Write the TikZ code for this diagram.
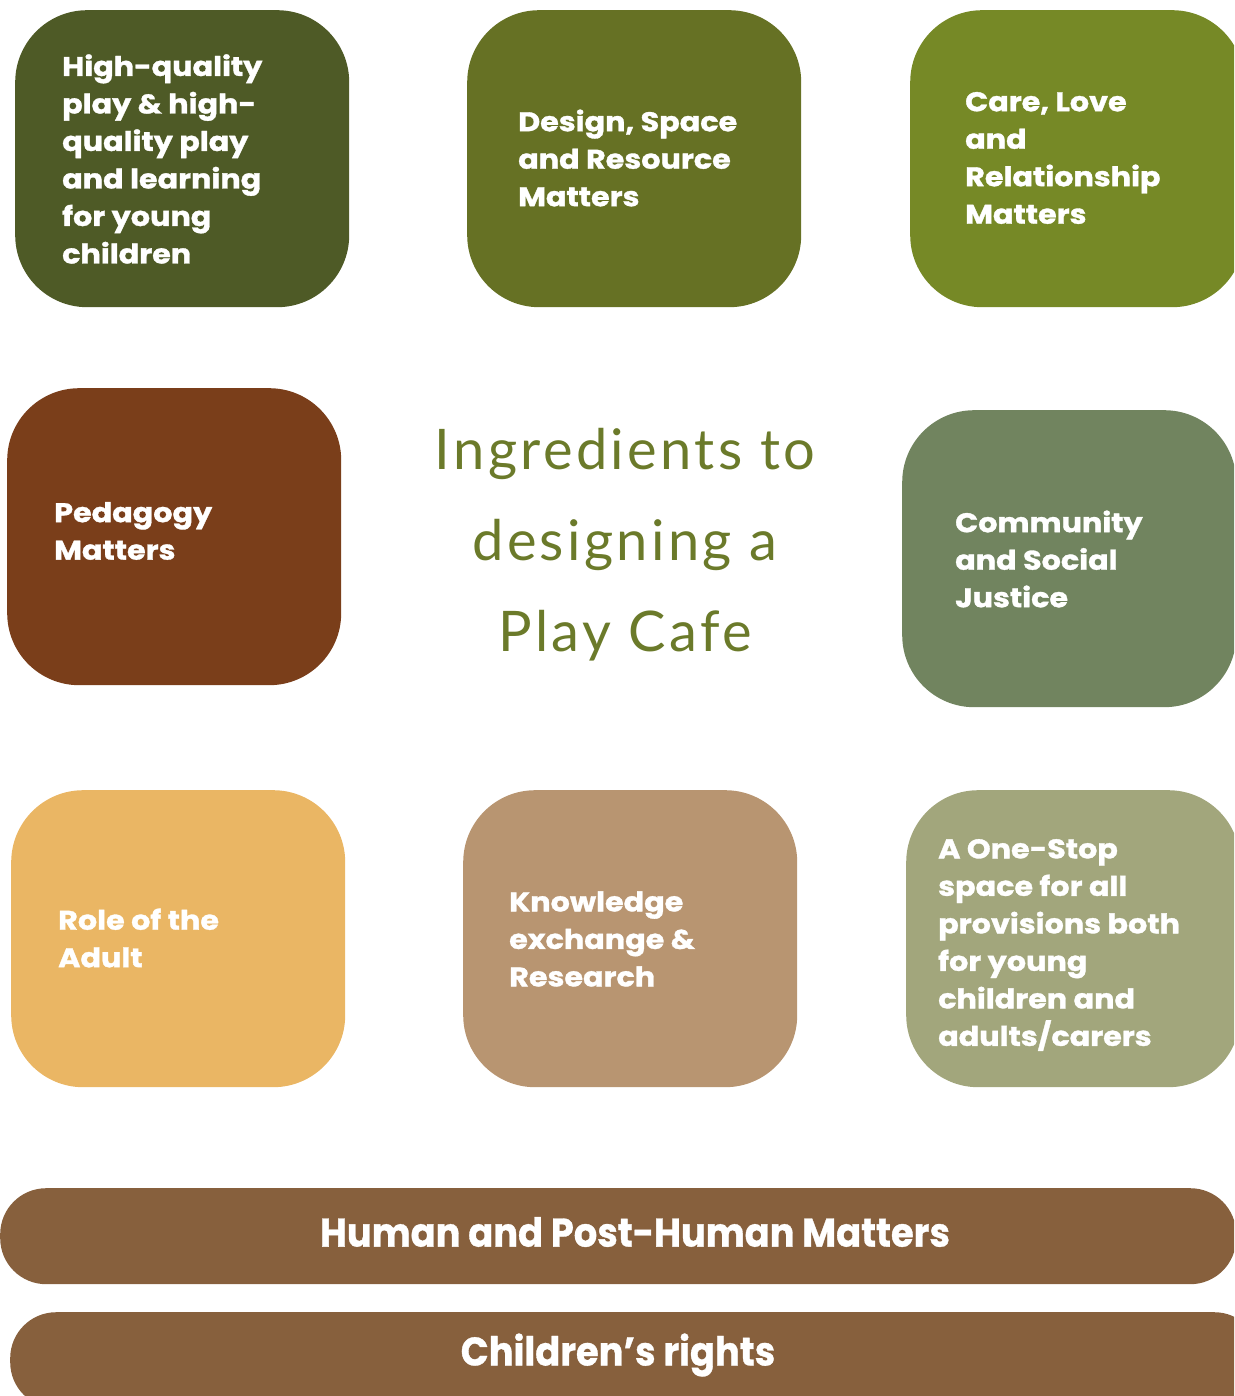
\documentclass[tikz,border=0pt]{standalone}
\usepackage{fontspec}
\setmainfont{Poppins}
\newfontfamily\cardfont{Poppins}[FakeStretch=1.12, FakeBold=1.2]
\newfontfamily\barfont{Poppins}[FakeStretch=0.92, FakeBold=0.8]
\newfontfamily\handfont{Lato}[LetterSpace=6]
\definecolor{cA}{HTML}{4E5A26}
\definecolor{cB}{HTML}{667124}
\definecolor{cC}{HTML}{768926}
\definecolor{cD}{HTML}{7A3E1A}
\definecolor{cE}{HTML}{71845F}
\definecolor{cF}{HTML}{EAB664}
\definecolor{cG}{HTML}{B89571}
\definecolor{cH}{HTML}{A2A67C}
\definecolor{cBar}{HTML}{87603D}
\definecolor{cHand}{HTML}{6B7A2A}
\begin{document}
\begin{tikzpicture}[x=1pt,y=-1pt,
  card/.style={fill=#1, draw=none, rectangle, rounded corners=72pt, minimum width=334pt, minimum height=297pt, anchor=north west, inner sep=0pt},
  bar/.style={fill=cBar, draw=none, rectangle, rounded corners=46pt, minimum height=96pt, anchor=north west, inner sep=0pt},
  lbl/.style={text=white, font=\cardfont\bfseries\fontsize{27}{37.5}\selectfont, align=left, anchor=west, inner sep=0pt},
  barlbl/.style={text=white, font=\barfont\bfseries\fontsize{40}{44}\selectfont, anchor=center, inner sep=0pt},
  hand/.style={text=cHand, font=\handfont\fontsize{56}{91}\selectfont, align=center, anchor=center, inner sep=0pt}]
\useasboundingbox (0,0) rectangle (1234,1396);
\clip (0,0) rectangle (1234,1396);
% cards
\node[card=cA] (b1) at (15,10) {};
\node[card=cB] (b2) at (467,10) {};
\node[card=cC] (b3) at (910,10) {};
\node[card=cD] (b4) at (7,388) {};
\node[card=cE] (b5) at (902,410) {};
\node[card=cF] (b6) at (11,790) {};
\node[card=cG] (b7) at (463,790) {};
\node[card=cH] (b8) at (906,790) {};
% bars
\node[bar, minimum width=1236pt] (r1) at (0,1188) {};
\node[bar, minimum width=1250pt] (r2) at (10,1312) {};
% labels
\node[lbl] (t1) at (62,159) {High-quality\\play \& high-\\quality play\\and learning\\for young\\children};
\node[lbl] (t2) at (518,158) {Design, Space\\and Resource\\Matters};
\node[lbl] (t3) at (965,158) {Care, Love\\and\\Relationship\\Matters};
\node[lbl] (t4) at (54,531) {Pedagogy\\Matters};
\node[lbl] (t5) at (955,559) {Community\\and Social\\Justice};
\node[lbl] (t6) at (58,938) {Role of the\\Adult};
\node[lbl] (t7) at (509,939) {Knowledge\\exchange \&\\Research};
\node[lbl] (t8) at (938,945) {A One-Stop\\space for all\\provisions both\\for young\\children and\\adults/carers};
\node[barlbl] (t9) at (635,1232) {Human and Post-Human Matters};
\node[barlbl] (t10) at (618,1355) {Children’s rights};
\node[hand] (tc) at (625,545) {Ingredients to\\designing a\\Play Cafe};
\end{tikzpicture}
\end{document}
